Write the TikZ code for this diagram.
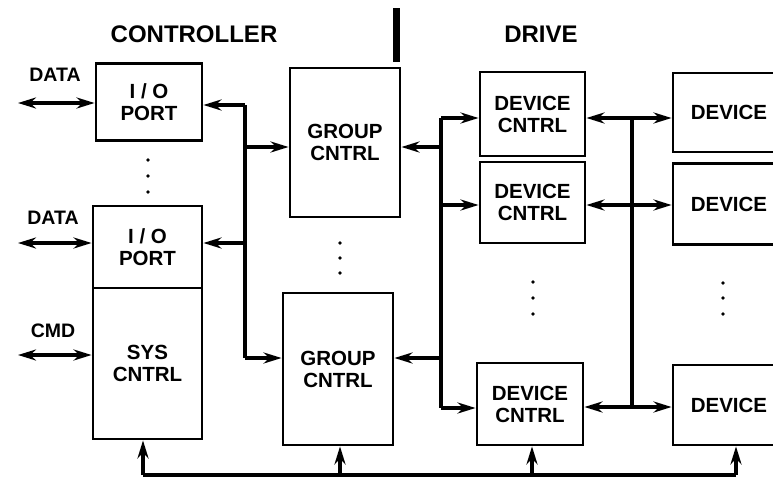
\documentclass[tikz,border=0pt]{standalone}
\usepackage{fontspec}
\setmainfont{Liberation Sans}
\usetikzlibrary{arrows.meta}
\begin{document}
\begin{tikzpicture}[x=1pt,y=-1pt,
  box/.style={draw,line width=2.8pt,inner sep=0pt,align=center,font=\fontsize{20.5}{22}\selectfont\bfseries},
  bus/.style={line width=3.8pt,line join=miter},
  tip/.tip={Stealth[length=18pt,width=11pt]},
  arr/.style={bus,-tip},
  darr/.style={bus,tip-tip},
  lbl/.style={font=\fontsize{19.5}{21}\selectfont\bfseries},
  ttl/.style={font=\fontsize{24}{26}\selectfont\bfseries},
  dot/.style={circle,fill,inner sep=0pt,minimum size=3.6pt}
]
\useasboundingbox (0,0) rectangle (773,482);
\clip (0,0) rectangle (773,482);

% titles
\node[ttl] (tctl) at (194,34) {CONTROLLER};
\node[ttl] (tdrv) at (541,34) {DRIVE};
\fill (393,8) rectangle (400,62);

% boxes
\node[box,minimum width=106pt,minimum height=77pt] (io1) at (149,102) {I / O\\PORT};
\node[box,minimum width=109pt,minimum height=82pt] (io2) at (147.5,247) {I / O\\PORT};
\node[box,minimum width=109pt,minimum height=151pt] (sys) at (147.5,363.5) {SYS\\CNTRL};
\node[box,minimum width=110pt,minimum height=149pt] (gc1) at (345,142.5) {GROUP\\CNTRL};
\node[box,minimum width=110pt,minimum height=152pt] (gc2) at (338,369) {GROUP\\CNTRL};
\node[box,minimum width=105pt,minimum height=84pt] (dc1) at (532.5,114) {DEVICE\\CNTRL};
\node[box,minimum width=105pt,minimum height=81pt] (dc2) at (532.5,202.5) {DEVICE\\CNTRL};
\node[box,minimum width=106pt,minimum height=82pt] (dc3) at (530,404) {DEVICE\\CNTRL};
\node[box,minimum width=112pt,minimum height=79pt] (dv1) at (729,112.5) {DEVICE};
\node[box,minimum width=112pt,minimum height=81pt] (dv2) at (729,204) {DEVICE};
\node[box,minimum width=112pt,minimum height=80pt] (dv3) at (729,405) {DEVICE};

% left labels and external arrows
\node[lbl] (ld1) at (55,75) {DATA};
\node[lbl] (ld2) at (53,218) {DATA};
\node[lbl] (lcmd) at (53,331) {CMD};
\coordinate (e1) at (18,103);
\coordinate (e2) at (18,243);
\coordinate (e3) at (18,355);
\draw[darr] (e1) -- (e1 -| io1.west);
\draw[darr] (e2) -- (e2 -| io2.west);
\draw[darr] (e3) -- (e3 -| sys.west);

% left bus
\coordinate (lb1) at (245,105);
\coordinate (lb2) at (245,243);
\coordinate (lb3) at (245,147);
\coordinate (lb4) at (245,358);
\draw[bus] (lb1) -- (lb4);
\draw[arr] (lb1) -- (lb1 -| io1.east);
\draw[arr] (lb2) -- (lb2 -| io2.east);
\draw[arr] (lb3) -- (lb3 -| gc1.west);
\draw[arr] (lb4) -- (lb4 -| gc2.west);

% middle bus
\coordinate (mb1) at (441,118);
\coordinate (mb2) at (441,147);
\coordinate (mb3) at (441,205);
\coordinate (mb4) at (441,358);
\coordinate (mb5) at (441,408);
\draw[bus] (mb1) -- (mb5);
\draw[arr] (mb2) -- (mb2 -| gc1.east);
\draw[arr] (mb4) -- (mb4 -| gc2.east);
\draw[arr] (mb1) -- (mb1 -| dc1.west);
\draw[arr] (mb3) -- (mb3 -| dc2.west);
\draw[arr] (mb5) -- (mb5 -| dc3.west);

% right bus
\coordinate (rb1) at (632,118);
\coordinate (rb2) at (632,205);
\coordinate (rb3) at (632,407);
\draw[bus] (rb1) -- (rb3);
\draw[arr] (rb1) -- (rb1 -| dc1.east);
\draw[arr] (rb1) -- (rb1 -| dv1.west);
\draw[arr] (rb2) -- (rb2 -| dc2.east);
\draw[arr] (rb2) -- (rb2 -| dv2.west);
\draw[arr] (rb3) -- (rb3 -| dc3.east);
\draw[arr] (rb3) -- (rb3 -| dv3.west);

% bottom bus
\coordinate (bb1) at (143,475);
\coordinate (bb2) at (340,475);
\coordinate (bb3) at (532,475);
\coordinate (bb4) at (736,475);
\draw[bus] (bb1) -- (bb4);
\draw[arr] (bb1) -- (bb1 |- sys.south);
\draw[arr] (bb2) -- (bb2 |- gc2.south);
\draw[arr] (bb3) -- (bb3 |- dc3.south);
\draw[arr] (bb4) -- (bb4 |- dv3.south);

% ellipsis dots
\foreach \y [count=\i] in {160,176,192} \node[dot] (da\i) at (148,\y) {};
\foreach \y [count=\i] in {243,258,273} \node[dot] (db\i) at (340,\y) {};
\foreach \y [count=\i] in {282,298,314} \node[dot] (dc\i) at (533,\y) {};
\foreach \y [count=\i] in {283,298,314} \node[dot] (dd\i) at (723,\y) {};
\end{tikzpicture}
\end{document}
